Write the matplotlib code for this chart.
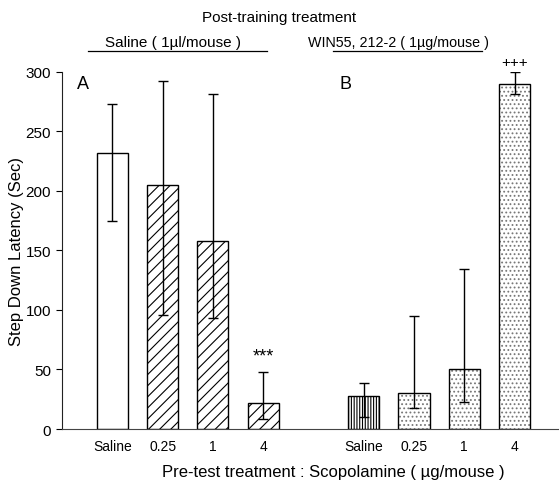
import numpy as np
import matplotlib
matplotlib.use('Agg')
import matplotlib.pyplot as plt

plt.rcParams['font.family'] = ['Liberation Sans', 'DejaVu Sans']
plt.rcParams['hatch.linewidth'] = 0.8

## Données
labels = ['Saline', '0.25', '1', '4', 'Saline', '0.25', '1', '4']
pos = [0, 1, 2, 3, 5, 6, 7, 8]
moyennes = [232, 205, 158, 22, 27.5, 30, 50, 289.5]
err_haut = [273, 292, 281, 47.5, 38.5, 95, 134.5, 299.5]
err_bas = [174.5, 96, 93, 8.5, 10, 17.5, 22.5, 281]
motifs = ['', '///', '///', '///', '||||||', '....', '....', '....']
couleur_motif = ['black', 'black', 'black', 'black', 'black', '#777777', '#777777', '#777777']

fig = plt.figure(figsize=(5.6, 4.85), dpi=100)
ax = fig.add_axes([0.110, 0.1134, 0.886, 0.7366])

yerr = [np.array(moyennes) - np.array(err_bas), np.array(err_haut) - np.array(moyennes)]
for i in range(len(pos)):
    # motif d'abord (couleur = edgecolor), puis le contour
    ax.bar(pos[i], moyennes[i], width=0.62, color='white', edgecolor=couleur_motif[i],
           linewidth=0, hatch=motifs[i], zorder=2)
    ax.bar(pos[i], moyennes[i], width=0.62, fill=False, edgecolor='black',
           linewidth=1.0, zorder=2.5)
ax.errorbar(pos, moyennes, yerr=yerr, fmt='none', ecolor='black', elinewidth=1.0,
            capsize=3.5, capthick=1.0, zorder=3)

ax.set_xlim(-1.01, 8.86)
ax.set_ylim(0, 300)
ax.set_yticks(range(0, 301, 50))
ax.set_xticks(pos)
ax.set_xticklabels(labels)
ax.tick_params(axis='x', length=0, pad=7, labelsize=10)
ax.tick_params(axis='y', direction='out', length=4, labelsize=11)
for s in ['top', 'right']:
    ax.spines[s].set_visible(False)
ax.spines['left'].set_color('#222222')
ax.spines['bottom'].set_color('#444444')

ax.set_ylabel('Step Down Latency (Sec)', fontsize=12, labelpad=1)
ax.set_xlabel('Pre-test treatment : Scopolamine ( \u00b5g/mouse )', fontsize=12)
ax.xaxis.label.set_va('center')
ax.xaxis.set_label_coords(0.547, -0.12)

ax.text(-0.59, 290, 'A', fontsize=13, ha='center', va='center')
ax.text(4.64, 290, 'B', fontsize=13, ha='center', va='center')
ax.text(3, 61, '***', fontsize=13, ha='center', va='center')
ax.text(8, 308, '+++', fontsize=11, ha='center', va='center', clip_on=False)

# titres en haut
fig.text(279/560, 1-18/485, 'Post-training treatment', fontsize=11, ha='center', va='center')
fig.text(173/560, 1-43/485, 'Saline ( 1\u00b5l/mouse )', fontsize=11, ha='center', va='center')
fig.text(399/560, 1-43/485, 'WIN55, 212-2 ( 1\u00b5g/mouse )', fontsize=10.3, ha='center', va='center')
fig.add_artist(plt.Line2D([88/560, 267/560], [1-52/485, 1-52/485], color='black', lw=0.9))
fig.add_artist(plt.Line2D([333/560, 482/560], [1-52/485, 1-52/485], color='black', lw=0.9))

fig.savefig('out.png', dpi=100)
